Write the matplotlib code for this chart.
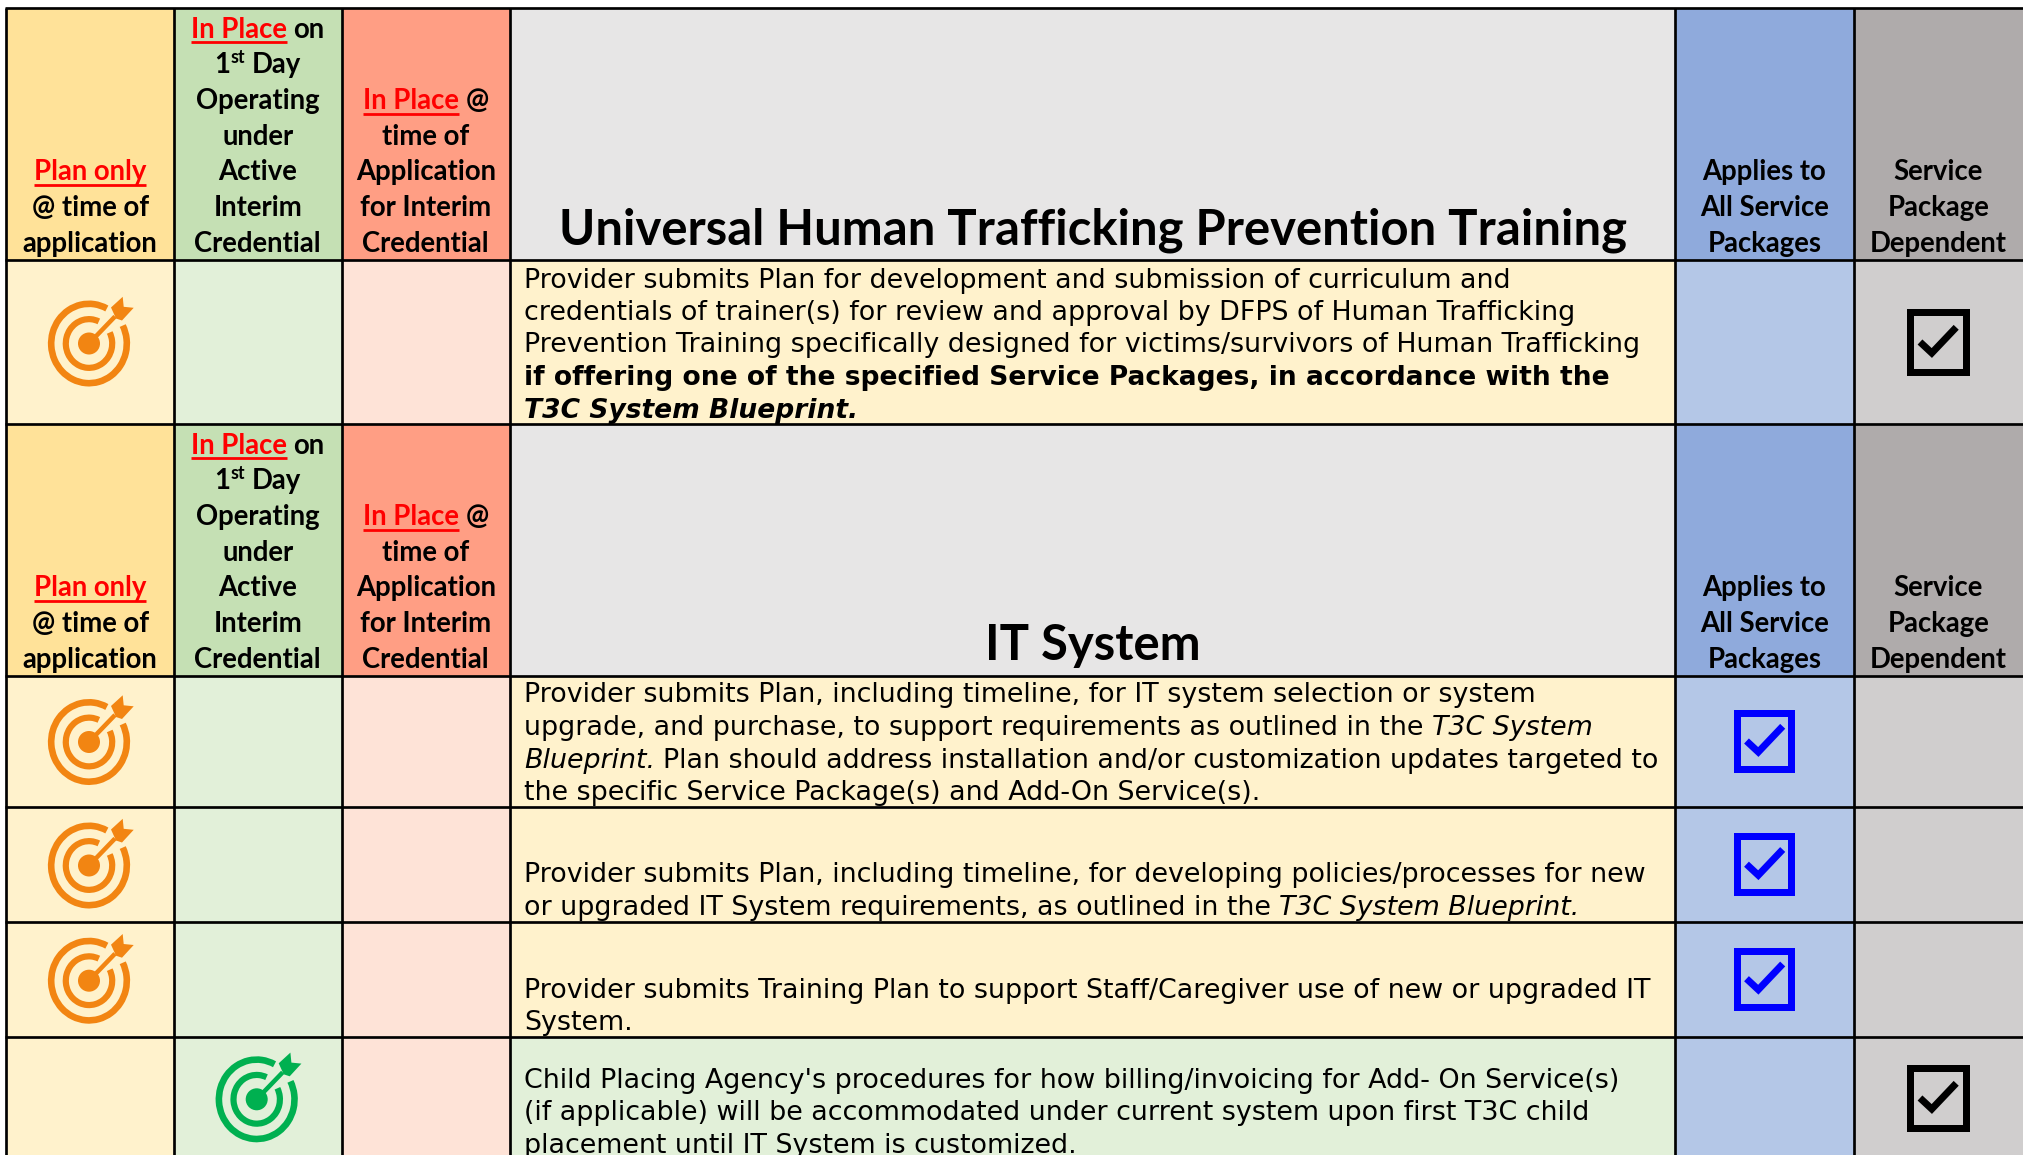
import matplotlib
matplotlib.use("Agg")
import matplotlib.pyplot as plt
from matplotlib.patches import Rectangle, Arc, Circle, Polygon

W, H = 2023, 1155
column_edges = [6.5, 173.7, 341.7, 509.7, 1675, 1854, 2023]
row_edges = [8, 260, 424, 676, 807, 922, 1037, 1170]
header_rows = [0, 2]
header_colors = ["#FFE299", "#C5E0B4", "#FF9E84", "#E7E6E6", "#8FAADC", "#AFABAB"]
light_colors = ["#FFF2CC", "#E2F0D9", "#FEE3D7", "#FFF2CC", "#B4C7E7", "#D0CECE"]
last_row_middle = "#E2F0D9"

section_titles = ["Universal Human Trafficking Prevention Training", "IT System"]
col_headers = [
    [[("Plan only", "r")], [("@ time of", "b")], [("application", "b")]],
    [[("In Place", "r"), (" on", "b")], [("1", "b"), ("st", "s"), (" Day", "b")], [("Operating", "b")],
     [("under", "b")], [("Active", "b")], [("Interim", "b")], [("Credential", "b")]],
    [[("In Place", "r"), (" @", "b")], [("time of", "b")], [("Application", "b")],
     [("for Interim", "b")], [("Credential", "b")]],
    None,
    [[("Applies to", "b")], [("All Service", "b")], [("Packages", "b")]],
    [[("Service", "b")], [("Package", "b")], [("Dependent", "b")]],
]
body_rows = {
    1: [[("Provider submits Plan for development and submission of curriculum and", "n")],
        [("credentials of trainer(s) for review and approval by DFPS of Human Trafficking", "n")],
        [("Prevention Training specifically designed for victims/survivors of Human Trafficking", "n")],
        [("if offering one of the specified Service Packages, in accordance with the", "B")],
        [("T3C System Blueprint.", "BI")]],
    3: [[("Provider submits Plan, including timeline, for IT system selection or system", "n")],
        [("upgrade, and purchase, to support requirements as outlined in the ", "n"), ("T3C System", "I")],
        [("Blueprint.", "I"), (" Plan should address installation and/or customization updates targeted to", "n")],
        [("the specific Service Package(s) and Add-On Service(s).", "n")]],
    4: [[("Provider submits Plan, including timeline, for developing policies/processes for new", "n")],
        [("or upgraded IT System requirements, as outlined in the ", "n"), ("T3C System Blueprint.", "I")]],
    5: [[("Provider submits Training Plan to support Staff/Caregiver use of new or upgraded IT", "n")],
        [("System.", "n")]],
    6: [[("Child Placing Agency's procedures for how billing/invoicing for Add- On Service(s)", "n")],
        [("(if applicable) will be accommodated under current system upon first T3C child", "n")],
        [("placement until IT System is customized.", "n")]],
}
body_first_baseline = {1: 287.5, 3: 702.5, 4: 882.5, 5: 997.5, 6: 1087.7}
body_line_step = 32.5
target_marks = [(89, 343.5, "#F28512"), (89, 742, "#F28512"), (89, 865.5, "#F28512"),
                (89, 980.7, "#F28512"), (256.7, 1099.3, "#00B050")]
check_marks = [(1938, 342, "#000000"), (1764.5, 741, "#0000FF"), (1764.5, 864.2, "#0000FF"),
               (1764.5, 978.7, "#0000FF"), (1938, 1098, "#000000")]

HEAD_PX, BODY_PX, BOLD_PX, TITLE_PX = 27.5, 26.9, 26.5, 49
px = 0.72
STY = {
    "b": dict(family="Lato", weight="bold", size=HEAD_PX * px, color="black"),
    "r": dict(family="Lato", weight="bold", size=HEAD_PX * px, color="#FF0000"),
    "s": dict(family="Lato", weight="bold", size=HEAD_PX * px * 0.65, color="black"),
    "n": dict(family="DejaVu Sans", size=BODY_PX * px, color="black"),
    "B": dict(family="DejaVu Sans", weight="bold", size=BOLD_PX * px, color="black"),
    "I": dict(family="DejaVu Sans", style="italic", size=BODY_PX * px, color="black"),
    "BI": dict(family="DejaVu Sans", weight="bold", style="italic", size=BOLD_PX * px, color="black"),
}

fig = plt.figure(figsize=(W / 100, H / 100), dpi=100, facecolor="white")
ax = fig.add_axes([0, 0, 1, 1])
ax.set_xlim(0, W)
ax.set_ylim(H, 0)
ax.axis("off")
renderer = fig.canvas.get_renderer()


def width(s, sty):
    a = ax.text(0, 0, "|" + s + "|", **STY[sty])
    b = ax.text(0, 0, "||", **STY[sty])
    w = a.get_window_extent(renderer).width - b.get_window_extent(renderer).width
    a.remove()
    b.remove()
    return w


def line_width(runs):
    return sum(width(t, s) for t, s in runs)


def draw_line(x, y, runs):
    for t, s in runs:
        w = width(t, s)
        lead = len(t) - len(t.lstrip())
        off = width(" " * lead, s) if lead else 0
        yy = y - 10 if s == "s" else y
        ax.text(x + off, yy, t.strip(), va="baseline", ha="left", zorder=5, **STY[s])
        if s == "r":
            ax.plot([x, x + w], [y + 4.5, y + 4.5], color="#FF0000", lw=2.0, zorder=5, solid_capstyle="butt")
        x += w


def target(cx, cy, c):
    rx, ry = 1.0, 1.05
    for r, lw_px, t1, t2 in [(37.8, 6.6, 28, 63), (23.2, 6.2, 28, 66)]:
        # y axis is inverted, so angles run clockwise on screen
        ax.add_patch(Arc((cx, cy), 2 * r * rx, 2 * r * ry, theta1=-t1, theta2=360 - t2,
                         color=c, lw=lw_px * px, zorder=4, capstyle="butt"))
    ax.add_patch(Circle((cx, cy), 11, color=c, lw=0, zorder=4))
    ax.plot([cx, cx + 26], [cy, cy - 27], color=c, lw=4.5 * px, zorder=4, solid_capstyle="butt")
    head = [(22, -36), (33.7, -46.7), (34.7, -36.7), (44.7, -35.7), (33, -23), (27, -25)]
    ax.add_patch(Polygon([(cx + a, cy + b) for a, b in head], closed=True, color=c, lw=0, zorder=4))


def checkbox(cx, cy, c):
    hw, hh = (28.3, 30.3) if c == "#000000" else (27, 28.2)
    s = 7
    ax.add_patch(Rectangle((cx - hw, cy - hh), 2 * hw, 2 * hh, fill=False, ec=c, lw=s * px, zorder=4,
                           joinstyle="miter"))
    pts = [(-18, 0), (-6.2, 11), (18.2, -14.7)]
    ax.plot([cx + a for a, b in pts], [cy + b for a, b in pts], color=c, lw=7 * px, zorder=4,
            solid_capstyle="butt", solid_joinstyle="miter")


# cell fills
for r in range(len(row_edges) - 1):
    for c in range(len(column_edges) - 1):
        fill = header_colors[c] if r in header_rows else light_colors[c]
        if r == 6 and c == 3:
            fill = last_row_middle
        ax.add_patch(Rectangle((column_edges[c], row_edges[r]), column_edges[c + 1] - column_edges[c],
                               row_edges[r + 1] - row_edges[r], fc=fill, ec="none", zorder=1))

# grid
for x in column_edges[:-1]:
    ax.plot([x, x], [row_edges[0], H], color="black", lw=2.7 * px, zorder=3, solid_capstyle="butt")
for y in row_edges[:-1]:
    ax.plot([column_edges[0] - 1.3, W], [y, y], color="black", lw=2.7 * px, zorder=3, solid_capstyle="butt")

# headers
for hr, title in zip(header_rows, section_titles):
    bottom = row_edges[hr + 1]
    for c, lines in enumerate(col_headers):
        if lines is None:
            continue
        cx = (column_edges[c] + column_edges[c + 1]) / 2
        n = len(lines)
        for i, runs in enumerate(lines):
            y = bottom - 8.2 - (n - 1 - i) * 35.7
            draw_line(cx - line_width(runs) / 2, y, runs)
    ax.text((column_edges[3] + column_edges[4]) / 2 + 0.5, bottom - 15.7, title, ha="center", va="baseline",
            family="Lato", weight="bold", size=TITLE_PX * px, color="black", zorder=5)

# body
for r, lines in body_rows.items():
    for i, runs in enumerate(lines):
        draw_line(524, body_first_baseline[r] + i * body_line_step, runs)

for m in target_marks:
    target(*m)
for m in check_marks:
    checkbox(*m)

fig.savefig("out.png", dpi=100, facecolor="white")
